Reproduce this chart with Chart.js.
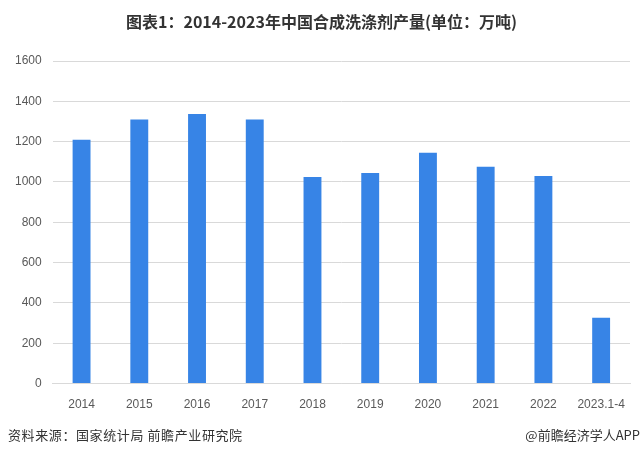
<!DOCTYPE html>
<html>
<head>
<meta charset="utf-8">
<script src="https://cdn.jsdelivr.net/npm/chart.js@4/dist/chart.umd.min.js"></script>
<style>
  body { margin: 0; background: #fff; }
  #wrap { position: relative; width: 643px; height: 455px; }
  #title { position: absolute; top: 9px; left: 0; width: 643px; text-align: center;
    font: bold 16px "Noto Sans CJK SC", sans-serif; color: #333; }
  .foot { position: absolute; top: 425px; font: 13px "Noto Sans CJK SC", sans-serif; color: #333; }
</style>
</head>
<body>
<div id="wrap">
  <canvas id="chart" width="643" height="455"></canvas>
  <div id="title">图表1：2014-2023年中国合成洗涤剂产量(单位：万吨)</div>
  <div class="foot" style="left:8px; letter-spacing:0.6px">资料来源：国家统计局 前瞻产业研究院</div>
  <div class="foot" style="right:3px">@前瞻经济学人APP</div>
</div>
<script>
// data
const categories = ["2014", "2015", "2016", "2017", "2018", "2019", "2020", "2021", "2022", "2023.1-4"];
const output = [1210, 1310, 1337, 1310, 1025, 1045, 1145, 1075, 1030, 327];
const yTicks = [0, 200, 400, 600, 800, 1000, 1200, 1400, 1600];

const ctx = document.getElementById("chart").getContext("2d");
const chart = new Chart(ctx, {
  type: "bar",
  data: {
    labels: categories,
    datasets: [
      {
        label: "产量",
        data: output,
        backgroundColor: "#3784e6",
        barPercentage: 0.62,
        categoryPercentage: 0.5,
      },
    ],
  },
  options: {
    responsive: false,
    animation: false,
    layout: { padding: { top: 61, right: 13, bottom: 37, left: 4 } },
    plugins: { legend: { display: false }, tooltip: { enabled: false } },
    scales: {
      x: {
        grid: { display: false },
        border: { color: "#d9d9d9" },
        ticks: { color: "#595959", font: { family: "Liberation Sans", size: 12 }, padding: 6 },
      },
      y: {
        min: 0,
        max: 1600,
        afterBuildTicks: (axis) => { axis.ticks = yTicks.map((v) => ({ value: v })); },
        grid: { color: "#d9d9d9", drawTicks: false },
        border: { display: false },
        ticks: {
          color: "#595959",
          font: { family: "Liberation Sans", size: 12 },
          padding: 11,
          callback: (v) => String(v),
        },
      },
    },
  },
});
</script>
</body>
</html>
